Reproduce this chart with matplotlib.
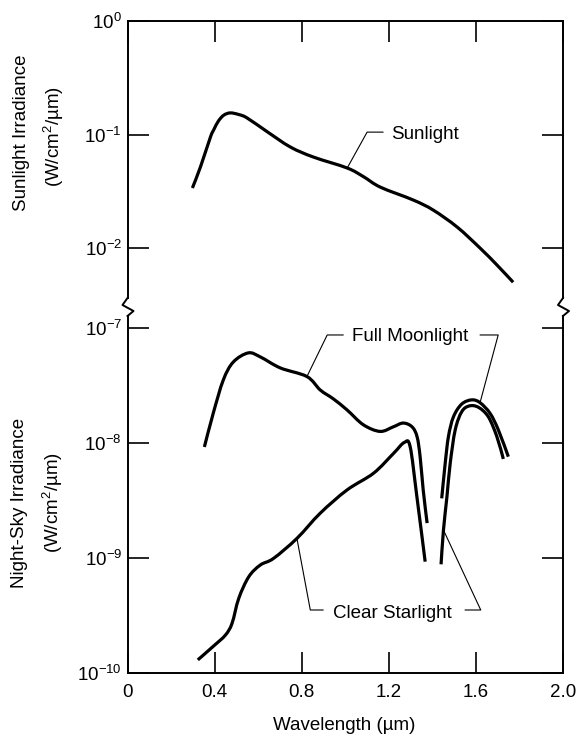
import numpy as np
import matplotlib
matplotlib.use('Agg')
from matplotlib import pyplot as plt
from matplotlib.lines import Line2D
from matplotlib.path import Path
from matplotlib.patches import PathPatch
from matplotlib.ticker import FixedLocator, FixedFormatter, NullLocator

plt.rcParams['font.family'] = ['Liberation Sans', 'DejaVu Sans']
plt.rcParams['mathtext.fontset'] = 'custom'
plt.rcParams['mathtext.rm'] = 'Liberation Sans'
plt.rcParams['mathtext.it'] = 'Liberation Sans:italic'
plt.rcParams['mathtext.default'] = 'regular'

W, H, DPI = 579, 740, 100
FONT = 13.5
LINE_W = 2.3
SPINE_W = 1.4
LEADER_W = 0.8
TICK_LEN = 15

# wavelength in um, irradiance in W/cm2/um
sun_wl = [0.298, 0.335, 0.381, 0.396, 0.417, 0.442, 0.472, 0.511, 0.549, 0.641,
          0.748, 0.853, 1.009, 1.084, 1.161, 1.312, 1.404, 1.514, 1.619, 1.697, 1.771]
sun_irr = [3.38e-2, 5.18e-2, 9.51e-2, 0.110, 0.131, 0.148, 0.155, 0.150, 0.140, 0.106,
           7.76e-2, 6.34e-2, 5.07e-2, 4.25e-2, 3.44e-2, 2.65e-2, 2.16e-2, 1.53e-2,
           1.0e-2, 7.08e-3, 5.0e-3]

moon_wl_a = [0.353, 0.394, 0.440, 0.486, 0.555, 0.610, 0.702, 0.824, 0.885, 0.945,
             1.008, 1.083, 1.160, 1.220, 1.266, 1.307, 1.330, 1.344, 1.358, 1.376]
moon_irr_a = [9.23e-9, 1.82e-8, 3.53e-8, 5.06e-8, 6.07e-8, 5.60e-8, 4.49e-8, 3.78e-8,
              2.89e-8, 2.42e-8, 1.94e-8, 1.44e-8, 1.26e-8, 1.38e-8, 1.49e-8, 1.38e-8,
              1.13e-8, 7.55e-9, 3.90e-9, 2.01e-9]
moon_wl_b = [1.443, 1.459, 1.474, 1.497, 1.535, 1.581, 1.619, 1.665, 1.703, 1.749]
moon_irr_b = [3.30e-9, 6.65e-9, 1.14e-8, 1.69e-8, 2.18e-8, 2.37e-8, 2.24e-8, 1.81e-8,
              1.30e-8, 7.60e-9]

star_wl_a = [0.323, 0.396, 0.450, 0.480, 0.511, 0.557, 0.610, 0.671, 0.778, 0.885,
             1.008, 1.130, 1.222, 1.271, 1.298, 1.329, 1.367]
star_irr_a = [1.30e-10, 1.72e-10, 2.14e-10, 2.70e-10, 4.46e-10, 6.87e-10, 8.69e-10,
              9.93e-10, 1.48e-9, 2.45e-9, 3.90e-9, 5.46e-9, 8.13e-9, 1.01e-8, 9.29e-9,
              3.41e-9, 9.29e-10]
star_wl_b = [1.440, 1.451, 1.467, 1.482, 1.505, 1.535, 1.570, 1.612, 1.657, 1.696, 1.726]
star_irr_b = [8.81e-10, 1.75e-9, 3.41e-9, 6.65e-9, 1.30e-8, 1.87e-8, 2.10e-8, 2.04e-8,
              1.69e-8, 1.14e-8, 7.26e-9]

x_ticks = [0, 0.4, 0.8, 1.2, 1.6, 2.0]
x_labels = ['0', '0.4', '0.8', '1.2', '1.6', '2.0']
top_ticks = [1e-2, 1e-1, 1e0]
top_labels = ['$10^{-2}$', '$10^{-1}$', '$10^{0}$']
bot_ticks = [1e-10, 1e-9, 1e-8, 1e-7]
bot_labels = ['$10^{-10}$', '$10^{-9}$', '$10^{-8}$', '$10^{-7}$']


def fx(px):
    return px / W


def fy(py):
    return 1 - py / H


def style_axes(ax, yticks, ylabels, ylim):
    ax.set_yscale('log')
    ax.set_xlim(0, 2.0)
    ax.set_ylim(*ylim)
    ax.xaxis.set_major_locator(FixedLocator(x_ticks))
    ax.xaxis.set_minor_locator(NullLocator())
    ax.yaxis.set_major_locator(FixedLocator(yticks))
    ax.yaxis.set_major_formatter(FixedFormatter(ylabels))
    ax.yaxis.set_minor_locator(NullLocator())
    ax.tick_params(axis='both', direction='in', length=TICK_LEN, width=1.2,
                   labelsize=FONT, left=True, right=True)
    ax.tick_params(axis='y', pad=4)
    for s in ax.spines.values():
        s.set_linewidth(SPINE_W)


def smooth_curve(ax, wl, irr):
    # catmull-rom through the read points, built in (x, log y) so it stays smooth on screen
    p = np.column_stack([np.asarray(wl, float), np.log10(irr)])
    ext = np.vstack([p[0], p, p[-1]])
    verts = [p[0]]
    codes = [Path.MOVETO]
    for i in range(len(p) - 1):
        p0, p1, p2, p3 = ext[i], ext[i + 1], ext[i + 2], ext[i + 3]
        verts += [p1 + (p2 - p0) / 6, p2 - (p3 - p1) / 6, p2]
        codes += [Path.CURVE4] * 3
    verts = np.array(verts)
    verts[:, 1] = 10 ** verts[:, 1]
    ax.add_patch(PathPatch(Path(verts, codes), fill=False, lw=LINE_W, ec='black',
                           capstyle='butt', joinstyle='round'))


def leader(ax, start, end, angle):
    ax.annotate('', xy=end, xytext=start,
                arrowprops=dict(arrowstyle='-', lw=LEADER_W, color='black',
                                shrinkA=0, shrinkB=0,
                                connectionstyle='angle,angleA=0,angleB=%s,rad=0' % angle))


fig = plt.figure(figsize=(W / DPI, H / DPI), dpi=DPI)
left, right = 127.5, 563
ax_top = fig.add_axes([fx(left), fy(298), fx(right) - fx(left), fy(21) - fy(298)])
ax_bot = fig.add_axes([fx(left), fy(673), fx(right) - fx(left), fy(316) - fy(673)])

style_axes(ax_top, top_ticks, top_labels, (10 ** -2.44, 1.0))
style_axes(ax_bot, bot_ticks, bot_labels, (1e-10, 10 ** -6.896))

ax_top.spines['bottom'].set_visible(False)
ax_top.tick_params(axis='x', bottom=False, top=True, labelbottom=False)
ax_bot.spines['top'].set_visible(False)
ax_bot.tick_params(axis='x', top=False, bottom=True, pad=8)
ax_bot.xaxis.set_major_formatter(FixedFormatter(x_labels))

# curves
smooth_curve(ax_top, sun_wl, sun_irr)
for wl, irr in [(moon_wl_a, moon_irr_a), (moon_wl_b, moon_irr_b),
                (star_wl_a, star_irr_a), (star_wl_b, star_irr_b)]:
    smooth_curve(ax_bot, wl, irr)

# labels with leader lines
ax_top.text(1.211, 0.105, 'Sunlight', fontsize=FONT, va='center_baseline')
leader(ax_top, (1.174, 0.105), (sun_wl[12], sun_irr[12]), 61)

ax_bot.text(1.032, 8.69e-8, 'Full Moonlight', fontsize=FONT, va='center_baseline')
leader(ax_bot, (0.991, 8.69e-8), (moon_wl_a[7], moon_irr_a[7]), 64)
leader(ax_bot, (1.619, 8.69e-8), (moon_wl_b[6], moon_irr_b[6]), 75)

ax_bot.text(0.945, 3.45e-10, 'Clear Starlight', fontsize=FONT, va='center_baseline')
leader(ax_bot, (0.899, 3.53e-10), (star_wl_a[8], star_irr_a[8]), -79.4)
leader(ax_bot, (1.550, 3.53e-10), (star_wl_b[1], star_irr_b[1]), -65)

# axis break zigzags
zig_dx = [0, -5, 6, 0]
zig_py = [298, 305, 311, 316]
for base in (left, right):
    fig.add_artist(Line2D([fx(base + d) for d in zig_dx], [fy(p) for p in zig_py],
                          color='black', lw=SPINE_W, transform=fig.transFigure))

# axis titles
fig.text(fx(22), fy(133), 'Sunlight Irradiance', rotation=90, fontsize=FONT,
         ha='center', va='center')
fig.text(fx(54), fy(137), '(W/cm$^2$/µm)', rotation=90, fontsize=FONT,
         ha='center', va='center')
fig.text(fx(20), fy(503), 'Night-Sky Irradiance', rotation=90, fontsize=FONT,
         ha='center', va='center')
fig.text(fx(53), fy(503), '(W/cm$^2$/µm)', rotation=90, fontsize=FONT,
         ha='center', va='center')
fig.text(fx(344), fy(725), 'Wavelength (µm)', fontsize=FONT, ha='center', va='center')

fig.savefig('out.png', dpi=DPI)
